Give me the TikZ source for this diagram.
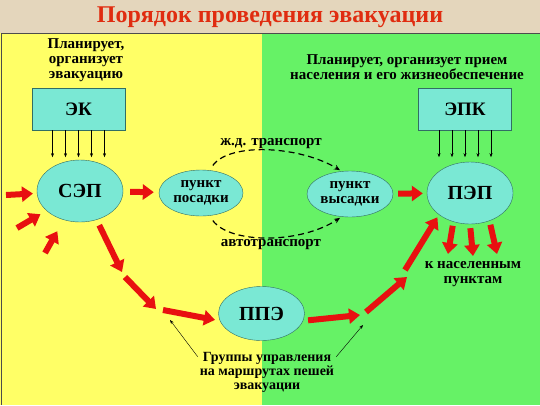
\documentclass[tikz,border=0pt]{standalone}
\usepackage{fontspec}
\setmainfont{Liberation Serif}
\usepackage{tikz}
\usetikzlibrary{shapes,arrows.meta,positioning}

\definecolor{beige}{RGB}{228,214,188}
\definecolor{panelyellow}{RGB}{255,255,102}
\definecolor{panelgreen}{RGB}{102,242,102}
\definecolor{aqua}{RGB}{122,232,212}
\definecolor{aquaborder}{RGB}{50,110,100}
\definecolor{arrowred}{RGB}{232,16,16}
\definecolor{titlered}{RGB}{224,44,16}

\begin{document}
\begin{tikzpicture}[x=1pt, y=-1pt, font=\bfseries]
    % Define styles
    \tikzstyle{board} = [rectangle, draw=aquaborder, fill=aqua, minimum width=93pt, minimum height=42pt, font=\bfseries\fontsize{19}{20}\selectfont]
    \tikzstyle{station} = [ellipse, draw=aquaborder, fill=aqua, inner sep=0pt, minimum width=86pt, minimum height=62pt, font=\bfseries\fontsize{20}{20}\selectfont]
    \tikzstyle{halt} = [station, minimum width=84pt, minimum height=46pt, align=center, font=\bfseries\fontsize{15}{15}\selectfont]
    \tikzstyle{note} = [align=center, inner sep=0pt, font=\bfseries\fontsize{15}{15}\selectfont]
    \tikzstyle{thinarrow} = [black, -{Stealth[length=4pt,width=3pt]}]
    \tikzstyle{redarrow} = [arrowred, line width=6pt, -{Triangle[length=11pt,width=15pt]}]
    \tikzstyle{dasharrow} = [line width=1.2pt, dash pattern=on 6pt off 4pt, -{Stealth[length=6pt,width=5pt]}]

    % Background
    \useasboundingbox (0,0) rectangle (540,405);
    \fill[beige] (0,0) rectangle (540,405);
    \fill[panelyellow] (0,33) rectangle (262,405);
    \fill[panelgreen] (262,33) rectangle (540,405);
    \draw[gray!60!black, line width=0.8pt] (1,405) -- (1,33) -- (540,33);

    % Title
    \node[text=titlered, font=\bfseries\fontsize{24}{26}\selectfont] (title) at (270,17) {Порядок проведения эвакуации};

    % Commissions
    \node[note] (plan) at (86,60) {Планирует,\\организует\\эвакуацию};
    \node[note] (receive) at (407,67) {Планирует, организует прием\\населения и его жизнеобеспечение};
    \node[board] (ek) at (78.5,109) {ЭК};
    \node[board] (epk) at (465,109) {ЭПК};
    \foreach \dx in {-26,-13,0,13,26} {
        \draw[thinarrow] ([xshift=\dx pt]ek.south) -- ++(0,27);
        \draw[thinarrow] ([xshift=\dx pt]epk.south) -- ++(0,27);
    }

    % Points
    \node[station] (sep) at (80,191) {СЭП};
    \node[halt] (posadki) at (201,193) {пункт\\посадки};
    \node[halt, minimum width=86pt] (visadki) at (350,194) {пункт\\высадки};
    \node[station] (pep) at (470,193) {ПЭП};
    \node[station, minimum height=54pt] (ppe) at (261.5,313.5) {ППЭ};

    % Labels
    \node[note] (rail) at (271,144) {ж.д. транспорт};
    \node[note] (road) at (271,245) {автотранспорт};
    \node[note] (settle) at (473,274) {к населенным\\пунктам};
    \node[note, font=\bfseries\fontsize{14}{14}\selectfont] (groups) at (267,372) {Группы управления\\на маршрутах пешей\\эвакуации};

    % Incoming flows
    \coordinate (inA) at (6,195);
    \coordinate (inB) at (17,228);
    \coordinate (inC) at (45,253);
    \draw[redarrow, shorten >=4pt] (inA) -- (sep);
    \draw[redarrow, shorten >=7pt] (inB) -- (sep);
    \draw[redarrow, shorten >=13pt] (inC) -- (sep);

    % Transport
    \draw[redarrow, shorten <=7pt, shorten >=5pt] (sep) -- (posadki);
    \draw[dasharrow, shorten <=6pt, shorten >=2pt] (posadki.70) .. controls (230,142) and (300,146) .. (visadki.110);
    \draw[dasharrow, shorten <=6pt, shorten >=2pt] (posadki.290) .. controls (230,244) and (300,244) .. (visadki.250);
    \draw[redarrow, shorten <=5pt, shorten >=4pt] (visadki) -- (pep);

    % Walking route
    \coordinate (w1) at (122,272);
    \coordinate (w2) at (125,277);
    \coordinate (w3) at (156,309);
    \coordinate (w4) at (163,310);
    \coordinate (w5) at (360,315);
    \coordinate (w6) at (366,312);
    \coordinate (w7) at (407,277);
    \coordinate (w8) at (405,270);
    \draw[redarrow, shorten <=6pt] (sep.300) -- (w1);
    \draw[redarrow] (w2) -- (w3);
    \draw[redarrow, shorten >=5pt] (w4) -- (ppe.190);
    \draw[redarrow, shorten <=5pt] (ppe.350) -- (w5);
    \draw[redarrow] (w6) -- (w7);
    \draw[redarrow, shorten >=3pt] (w8) -- (pep.215);

    % Control groups
    \coordinate (g1) at (170,320);
    \coordinate (g2) at (363,325);
    \draw[thinarrow] ([xshift=-2pt,yshift=-5pt]groups.north west) -- (g1);
    \draw[thinarrow] ([xshift=2pt,yshift=-5pt]groups.north east) -- (g2);

    % Dispersal
    \coordinate (out1) at (448,254);
    \coordinate (out2) at (473,256);
    \coordinate (out3) at (497,254);
    \draw[redarrow, shorten <=4pt] (pep.240) -- (out1);
    \draw[redarrow, shorten <=4pt] (pep.270) -- (out2);
    \draw[redarrow, shorten <=4pt] (pep.305) -- (out3);
\end{tikzpicture}
\end{document}
